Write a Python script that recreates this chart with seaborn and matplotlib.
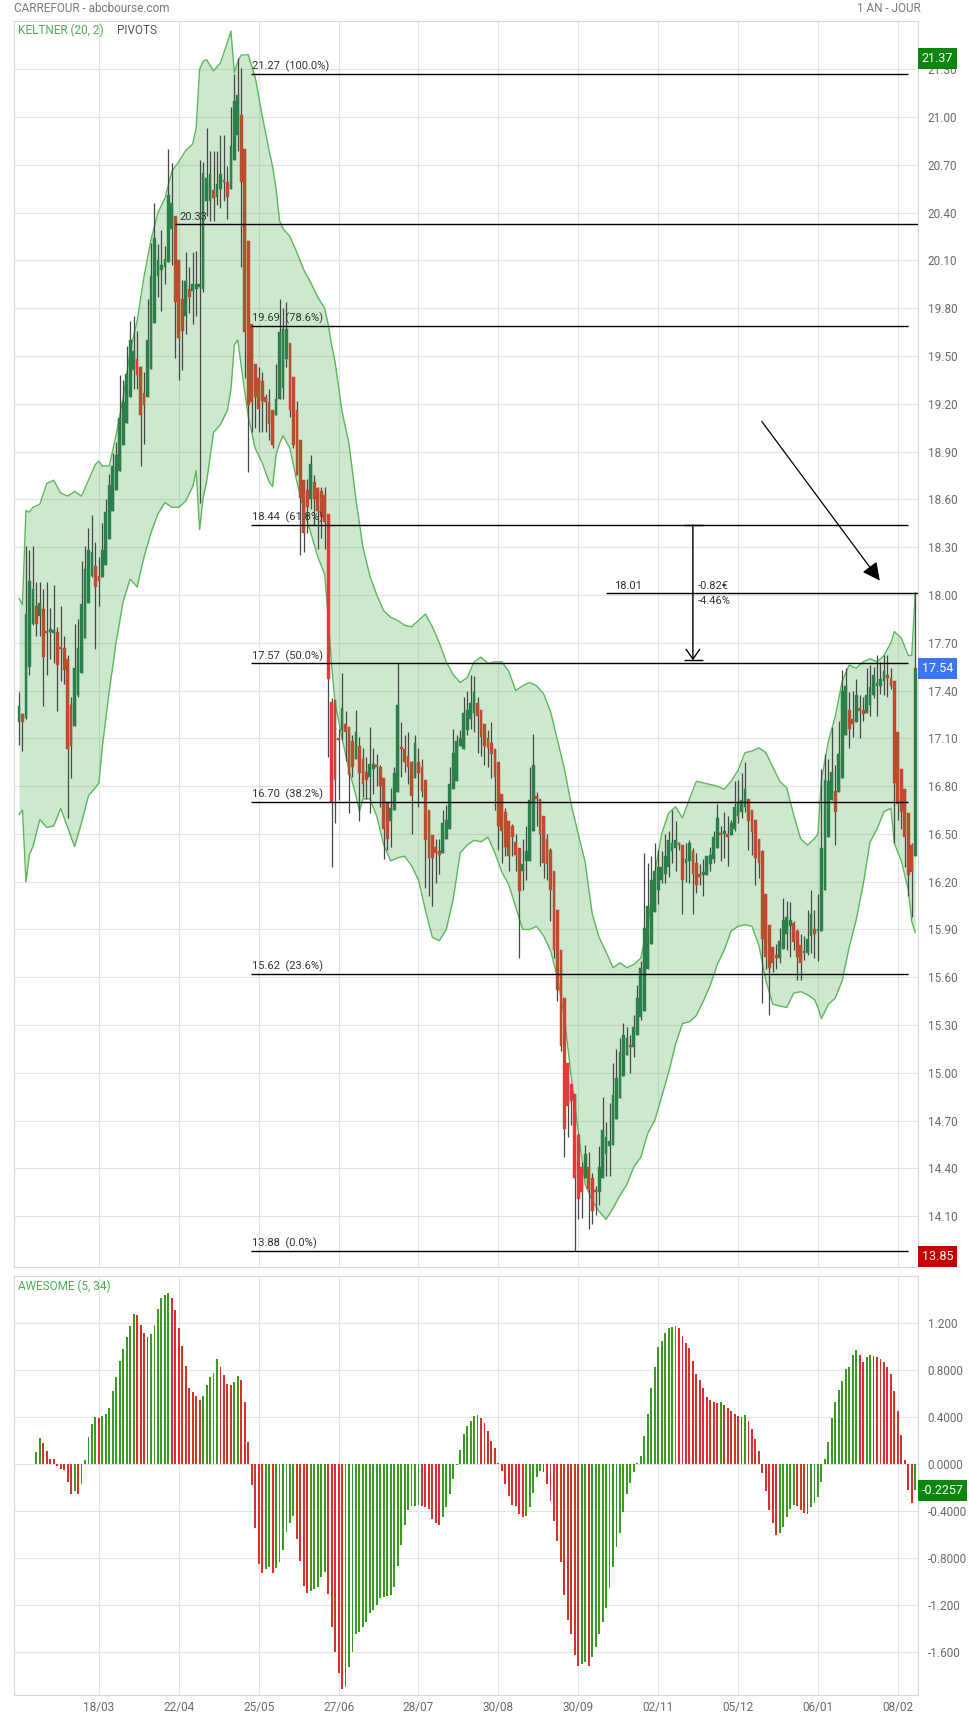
import matplotlib
matplotlib.use("Agg")
import matplotlib.pyplot as plt
import matplotlib.transforms as mtransforms
import numpy as np
import pandas as pd
import seaborn as sns

# ---------------- data (bar 0 = mid Feb 2022) ----------------
open_ = [
    17.20, 17.25, 17.23, 17.55, 17.82, 17.93, 17.87, 17.91, 17.77, 17.77,
    17.76, 17.77, 17.67, 17.67, 17.60, 17.31, 17.18, 17.37, 17.51, 17.73,
    17.95, 18.12, 18.18, 18.12, 18.11, 18.19, 18.35, 18.53, 18.66, 18.78,
    18.94, 19.08, 19.24, 19.41, 19.48, 19.43, 19.27, 19.24, 19.42, 19.71,
    20.00, 20.04, 20.06, 20.09, 20.30, 20.38, 20.10, 19.86, 19.75, 19.92,
    19.91, 19.92, 19.93, 19.92, 20.47, 20.47, 20.54, 20.50, 20.55, 20.60,
    20.59, 20.55, 20.73, 20.89, 21.01, 20.80, 20.22, 19.70, 19.45, 19.36,
    19.34, 19.24, 19.21, 19.16, 19.13, 19.23, 19.30, 19.48, 19.58, 19.37,
    19.16, 18.97, 18.72, 18.66, 18.60, 18.71, 18.67, 18.65, 18.63, 18.51,
    17.33, 17.34, 17.10, 17.15, 17.19, 17.17, 17.08, 16.97, 17.05, 16.97,
    16.89, 16.86, 16.91, 16.93, 16.92, 16.85, 16.70, 16.58, 16.65, 16.76,
    17.04, 17.03, 16.99, 16.95, 16.85, 16.95, 16.92, 16.84, 16.65, 16.49,
    16.42, 16.39, 16.38, 16.47, 16.53, 16.78, 16.83, 17.05, 17.03, 17.15,
    17.22, 17.26, 17.32, 17.28, 17.19, 17.10, 17.07, 17.03, 16.95, 16.75,
    16.64, 16.58, 16.55, 16.45, 16.41, 16.27, 16.33, 16.33, 16.52, 16.73,
    16.72, 16.61, 16.47, 16.40, 16.27, 16.02, 15.77, 15.47, 15.06, 14.93,
    14.87, 14.61, 14.41, 14.34, 14.41, 14.34, 14.26, 14.25, 14.34, 14.49,
    14.54, 14.55, 14.71, 14.84, 14.98, 15.11, 15.17, 15.16, 15.24, 15.35,
    15.39, 15.65, 15.81, 16.01, 16.15, 16.21, 16.25, 16.29, 16.39, 16.41,
    16.44, 16.43, 16.32, 16.33, 16.39, 16.32, 16.25, 16.24, 16.24, 16.31,
    16.34, 16.41, 16.50, 16.50, 16.50, 16.49, 16.53, 16.61, 16.64, 16.67,
    16.72, 16.65, 16.59, 16.47, 16.39, 16.12, 15.93, 15.79, 15.74, 15.72,
    15.78, 15.87, 15.92, 15.94, 15.89, 15.80, 15.75, 15.75, 15.86, 15.90,
    15.89, 15.89, 16.15, 16.48, 16.71, 16.77, 16.76, 16.85, 17.12, 17.28,
    17.22, 17.20, 17.29, 17.28, 17.26, 17.31, 17.37, 17.43, 17.43, 17.46,
    17.49, 17.48, 17.46, 17.14, 16.91, 16.78, 16.63, 16.43, 16.36,
]
high = [
    17.39, 17.26, 18.31, 18.28, 18.31, 18.08, 18.08, 18.04, 18.08, 17.92,
    18.06, 17.80, 17.93, 17.74, 17.62, 17.36, 17.82, 17.85, 18.21, 18.31,
    18.42, 18.50, 18.33, 18.24, 18.45, 18.60, 18.76, 18.89, 18.96, 19.38,
    19.35, 19.56, 19.72, 19.75, 19.66, 19.44, 19.40, 19.86, 20.21, 20.46,
    20.20, 20.29, 20.19, 20.80, 20.71, 20.38, 20.10, 19.98, 20.15, 20.06,
    20.15, 20.16, 20.73, 20.72, 20.93, 20.79, 20.79, 20.79, 20.89, 20.89,
    20.69, 21.06, 21.27, 21.37, 21.31, 20.80, 20.22, 19.70, 19.45, 19.43,
    19.40, 19.26, 19.29, 19.16, 19.45, 19.86, 19.80, 19.84, 19.58, 19.37,
    19.22, 18.97, 18.72, 18.73, 18.88, 18.75, 18.68, 18.68, 18.68, 18.51,
    17.35, 17.34, 17.16, 17.51, 17.27, 17.17, 17.12, 17.28, 17.11, 17.04,
    16.98, 17.17, 17.04, 17.00, 16.93, 16.85, 16.70, 16.79, 16.92, 17.57,
    17.20, 17.12, 17.14, 16.96, 17.12, 17.04, 16.97, 16.84, 16.65, 16.49,
    16.47, 16.47, 16.65, 16.68, 16.92, 17.16, 17.12, 17.15, 17.36, 17.40,
    17.50, 17.49, 17.36, 17.28, 17.19, 17.15, 17.20, 17.03, 16.95, 16.75,
    16.66, 16.58, 16.56, 16.50, 16.41, 16.47, 16.55, 16.92, 17.13, 16.76,
    16.72, 16.61, 16.50, 16.41, 16.27, 16.02, 15.77, 15.47, 15.06, 14.93,
    14.87, 14.62, 14.44, 14.55, 14.50, 14.37, 14.29, 14.54, 14.85, 14.69,
    14.81, 15.06, 15.15, 15.22, 15.31, 15.29, 15.24, 15.36, 15.55, 15.70,
    16.38, 16.32, 16.36, 16.44, 16.40, 16.39, 16.50, 16.52, 16.65, 16.58,
    16.45, 16.43, 16.44, 16.46, 16.41, 16.38, 16.31, 16.34, 16.36, 16.42,
    16.52, 16.69, 16.55, 16.64, 16.61, 16.59, 16.83, 16.84, 16.88, 16.95,
    16.72, 16.65, 16.59, 16.47, 16.40, 16.12, 15.93, 15.79, 15.81, 15.91,
    16.10, 16.08, 16.07, 15.95, 15.90, 15.87, 15.86, 16.02, 16.15, 16.02,
    16.12, 16.91, 17.00, 16.97, 17.17, 16.93, 17.21, 17.53, 17.54, 17.39,
    17.40, 17.47, 17.37, 17.36, 17.54, 17.56, 17.55, 17.62, 17.58, 17.62,
    17.62, 17.54, 17.46, 17.14, 16.91, 16.78, 16.63, 16.44, 18.02,
]
low = [
    17.06, 17.02, 17.22, 17.50, 17.81, 17.74, 17.74, 17.30, 17.50, 17.60,
    17.57, 17.27, 17.46, 17.44, 16.60, 16.85, 17.18, 17.36, 17.51, 17.73,
    17.95, 18.11, 17.66, 17.93, 18.11, 18.19, 18.35, 18.53, 18.66, 18.78,
    18.94, 19.08, 19.24, 19.29, 19.29, 18.81, 18.95, 19.24, 19.42, 19.71,
    19.87, 19.78, 19.95, 20.09, 20.07, 19.49, 19.35, 19.41, 19.64, 19.77,
    19.70, 19.75, 18.58, 19.90, 20.38, 20.35, 20.35, 20.45, 20.43, 20.47,
    20.36, 20.55, 20.73, 20.79, 20.06, 19.36, 18.77, 19.02, 19.05, 19.02,
    19.02, 19.02, 18.97, 18.92, 19.13, 19.23, 19.23, 19.43, 19.12, 18.92,
    18.75, 18.25, 18.27, 18.39, 18.54, 18.44, 18.29, 18.36, 18.29, 16.98,
    16.29, 16.57, 16.71, 17.09, 16.96, 16.63, 16.86, 16.97, 16.58, 16.73,
    16.72, 16.63, 16.75, 16.80, 16.67, 16.34, 16.40, 16.42, 16.65, 16.76,
    16.86, 16.89, 16.81, 16.50, 16.85, 16.67, 16.73, 16.16, 16.11, 16.05,
    16.19, 16.25, 16.38, 16.47, 16.53, 16.78, 16.83, 17.05, 17.03, 17.12,
    17.16, 17.14, 17.01, 16.99, 16.93, 16.92, 16.85, 16.65, 16.40, 16.32,
    16.36, 16.27, 16.36, 16.27, 15.72, 16.15, 16.21, 16.33, 16.52, 16.55,
    16.30, 16.22, 16.21, 15.95, 15.72, 15.45, 15.14, 14.47, 14.60, 14.67,
    13.88, 14.08, 14.09, 14.34, 14.02, 14.05, 14.11, 14.17, 14.34, 14.35,
    14.35, 14.55, 14.71, 14.84, 14.98, 15.11, 15.00, 15.10, 15.24, 15.33,
    15.39, 15.65, 15.81, 16.01, 16.06, 16.19, 16.19, 16.23, 16.32, 16.27,
    16.40, 16.00, 16.20, 16.19, 16.00, 16.13, 16.18, 16.11, 16.24, 16.27,
    16.32, 16.41, 16.33, 16.35, 16.30, 16.49, 16.52, 16.57, 16.60, 16.64,
    16.40, 16.37, 16.18, 16.22, 15.44, 15.65, 15.36, 15.63, 15.65, 15.69,
    15.78, 15.77, 15.73, 15.77, 15.58, 15.58, 15.71, 15.74, 15.75, 15.72,
    15.70, 15.89, 16.15, 16.48, 16.71, 16.43, 16.76, 16.85, 17.12, 17.04,
    17.11, 17.20, 17.10, 17.21, 17.26, 17.24, 17.35, 17.24, 17.38, 17.37,
    17.36, 17.41, 16.44, 16.59, 16.53, 16.29, 16.11, 15.98, 16.36,
]
close = [
    17.30, 17.20, 17.88, 18.09, 18.04, 17.82, 17.95, 17.61, 17.76, 17.77,
    17.78, 17.56, 17.66, 17.53, 17.03, 17.05, 17.54, 17.67, 17.94, 18.16,
    18.28, 18.27, 18.05, 18.09, 18.28, 18.52, 18.69, 18.81, 18.88, 19.11,
    19.21, 19.39, 19.60, 19.53, 19.38, 19.13, 19.19, 19.60, 20.00, 20.24,
    20.10, 20.07, 20.11, 20.51, 20.46, 19.84, 19.61, 19.66, 19.97, 19.87,
    19.95, 19.95, 19.95, 20.65, 20.62, 20.64, 20.49, 20.58, 20.64, 20.59,
    20.50, 20.82, 21.10, 21.14, 20.59, 19.65, 19.19, 19.21, 19.24, 19.17,
    19.22, 19.21, 19.07, 18.94, 19.23, 19.65, 19.67, 19.67, 19.16, 18.94,
    18.75, 18.61, 18.39, 18.55, 18.82, 18.60, 18.53, 18.49, 18.46, 17.47,
    16.70, 16.84, 17.09, 17.29, 17.14, 16.87, 16.92, 17.14, 16.88, 16.81,
    16.84, 16.94, 16.94, 16.92, 16.80, 16.53, 16.47, 16.66, 16.88, 17.31,
    17.03, 16.95, 16.92, 16.74, 17.07, 16.88, 16.77, 16.46, 16.35, 16.35,
    16.38, 16.37, 16.57, 16.59, 16.81, 17.01, 17.08, 17.10, 17.26, 17.28,
    17.32, 17.39, 17.24, 17.11, 17.05, 17.04, 17.00, 16.86, 16.55, 16.52,
    16.42, 16.36, 16.48, 16.37, 16.14, 16.31, 16.39, 16.71, 16.93, 16.72,
    16.50, 16.32, 16.31, 16.15, 15.77, 15.52, 15.17, 14.65, 14.79, 14.82,
    14.34, 14.21, 14.25, 14.49, 14.27, 14.13, 14.25, 14.41, 14.64, 14.60,
    14.57, 14.86, 14.97, 15.13, 15.24, 15.22, 15.16, 15.29, 15.47, 15.66,
    15.91, 16.05, 16.21, 16.27, 16.29, 16.29, 16.36, 16.46, 16.44, 16.46,
    16.43, 16.21, 16.34, 16.44, 16.25, 16.18, 16.23, 16.26, 16.36, 16.37,
    16.48, 16.60, 16.49, 16.51, 16.48, 16.57, 16.67, 16.70, 16.71, 16.78,
    16.58, 16.51, 16.35, 16.32, 15.84, 15.73, 15.66, 15.69, 15.72, 15.83,
    15.96, 15.98, 15.96, 15.82, 15.73, 15.69, 15.76, 15.84, 16.00, 15.87,
    15.90, 16.41, 16.84, 16.83, 16.89, 16.64, 17.00, 17.40, 17.43, 17.16,
    17.19, 17.37, 17.27, 17.25, 17.37, 17.42, 17.50, 17.44, 17.47, 17.52,
    17.48, 17.43, 16.82, 16.69, 16.64, 16.48, 16.24, 16.26, 17.54,
]
# candles drawn in the brighter red
bright_red = [34, 89, 90, 157, 158, 159, 160, 161, 162, 165]

# Keltner (20, 2) envelope, read at these bar positions
band_idx = [0, 1, 2, 3, 4, 6, 8, 10, 12, 14, 16, 18, 20, 22, 23, 24, 26, 28, 30, 32,
            34, 36, 38, 40, 42, 44, 46, 48, 50, 51, 52, 53, 54, 56, 58, 60, 61, 62, 63, 64,
            66, 68, 70, 72, 73, 74, 75, 76, 78, 80, 82, 84, 86, 88, 89, 90, 91, 93, 95, 97,
            98, 99, 101, 103, 105, 107, 109, 111, 113, 115, 117, 119, 121, 123, 125, 127, 129, 131, 133, 135,
            137, 139, 141, 143, 145, 147, 149, 151, 153, 155, 157, 159, 161, 163, 165, 167, 169, 171, 173, 175,
            177, 179, 181, 183, 185, 187, 189, 191, 193, 195, 197, 199, 201, 203, 205, 207, 209, 211, 213, 215,
            217, 219, 221, 223, 225, 227, 229, 230, 231, 233, 235, 237, 239, 241, 243, 245, 247, 249, 251, 252,
            254, 256, 257, 258]
band_upper = [17.98, 17.94, 18.53, 18.52, 18.55, 18.57, 18.70, 18.72, 18.64, 18.62, 18.65, 18.62, 18.72, 18.82, 18.84, 18.81, 18.81, 19.01, 19.24, 19.53,
              19.72, 20.00, 20.23, 20.40, 20.49, 20.66, 20.72, 20.79, 20.83, 20.93, 21.30, 21.35, 21.36, 21.29, 21.34, 21.47, 21.54, 21.28, 21.35, 21.39,
              21.39, 21.25, 21.01, 20.79, 20.69, 20.55, 20.35, 20.30, 20.25, 20.15, 20.04, 19.96, 19.87, 19.80, 19.70, 19.57, 19.46, 19.15, 18.95, 18.60,
              18.45, 18.30, 18.12, 18.00, 17.90, 17.86, 17.84, 17.81, 17.80, 17.84, 17.88, 17.80, 17.70, 17.58, 17.50, 17.45, 17.48, 17.58, 17.61, 17.57,
              17.58, 17.58, 17.52, 17.40, 17.43, 17.45, 17.43, 17.38, 17.27, 17.09, 16.91, 16.68, 16.50, 16.32, 16.00, 15.85, 15.76, 15.66, 15.69, 15.66,
              15.68, 15.72, 15.92, 16.25, 16.50, 16.63, 16.67, 16.60, 16.72, 16.83, 16.82, 16.81, 16.80, 16.78, 16.83, 16.90, 17.01, 17.02, 17.04, 17.01,
              16.92, 16.83, 16.79, 16.62, 16.47, 16.43, 16.47, 16.50, 16.84, 17.08, 17.24, 17.46, 17.56, 17.54, 17.58, 17.60, 17.58, 17.62, 17.70, 17.77,
              17.73, 17.62, 17.62, 18.01]
band_lower = [16.62, 16.65, 16.20, 16.37, 16.42, 16.59, 16.54, 16.55, 16.66, 16.54, 16.42, 16.57, 16.74, 16.79, 16.82, 17.05, 17.40, 17.71, 17.96, 18.10,
              18.05, 18.24, 18.39, 18.51, 18.58, 18.55, 18.55, 18.59, 18.68, 18.78, 18.41, 18.61, 18.71, 19.02, 19.07, 19.16, 19.29, 19.57, 19.60, 19.43,
              19.12, 18.92, 18.83, 18.71, 18.68, 18.88, 18.95, 19.00, 18.92, 18.71, 18.53, 18.39, 18.24, 18.13, 17.86, 17.56, 17.32, 17.10, 16.90, 16.74,
              16.64, 16.72, 16.72, 16.61, 16.43, 16.33, 16.35, 16.36, 16.30, 16.21, 16.02, 15.85, 15.83, 15.90, 16.09, 16.38, 16.43, 16.46, 16.45, 16.48,
              16.38, 16.26, 16.18, 16.04, 15.90, 15.90, 15.92, 15.86, 15.77, 15.60, 15.35, 14.97, 14.63, 14.30, 14.20, 14.13, 14.08, 14.15, 14.23, 14.30,
              14.41, 14.47, 14.62, 14.70, 14.85, 15.00, 15.18, 15.31, 15.32, 15.36, 15.45, 15.55, 15.68, 15.77, 15.89, 15.92, 15.93, 15.92, 15.80, 15.58,
              15.43, 15.42, 15.41, 15.50, 15.51, 15.49, 15.46, 15.41, 15.34, 15.43, 15.47, 15.58, 15.79, 15.96, 16.18, 16.45, 16.53, 16.64, 16.66, 16.44,
              16.33, 16.15, 15.95, 15.88]

# Awesome oscillator (5, 34), from bar 5 to the last bar
ao_start = 5
ao_values = [
    0.10, 0.22, 0.18, 0.11, 0.045, 0.04, -0.02, -0.04, -0.05, -0.15, -0.26, -0.23, -0.26, -0.17, 0.03, 0.23, 0.34, 0.40, 0.395,
    0.41, 0.43, 0.48, 0.62, 0.74, 0.88, 0.98, 1.08, 1.18, 1.28, 1.27, 1.19, 1.12, 1.08, 1.11, 1.19, 1.32, 1.42, 1.44, 1.46,
    1.42, 1.31, 1.16, 1.01, 0.84, 0.65, 0.61, 0.58, 0.55, 0.58, 0.67, 0.74, 0.78, 0.90, 0.83, 0.76, 0.68, 0.67, 0.70, 0.75,
    0.72, 0.53, 0.19, -0.18, -0.55, -0.85, -0.93, -0.90, -0.88, -0.93, -0.89, -0.84, -0.73, -0.58, -0.50, -0.44, -0.64, -0.83, -1.04, -1.10,
    -1.08, -1.07, -1.05, -0.96, -0.92, -1.11, -1.39, -1.60, -1.78, -1.92, -1.90, -1.73, -1.60, -1.45, -1.43, -1.39, -1.35, -1.27, -1.25,
    -1.20, -1.14, -1.135, -1.13, -1.12, -1.05, -0.87, -0.69, -0.52, -0.39, -0.36, -0.355, -0.35, -0.36, -0.37, -0.38, -0.47, -0.50, -0.52, -0.45,
    -0.37, -0.26, -0.13, -0.005, 0.12, 0.26, 0.32, 0.37, 0.41, 0.42, 0.39, 0.35, 0.28, 0.20, 0.14, 0.01, -0.06, -0.17, -0.27, -0.35,
    -0.36, -0.43, -0.45, -0.44, -0.37, -0.25, -0.11, -0.06, -0.07, -0.17, -0.32, -0.49, -0.66, -0.84, -1.12, -1.33, -1.45, -1.63, -1.72, -1.71,
    -1.69, -1.72, -1.65, -1.56, -1.45, -1.35, -1.23, -1.06, -0.88, -0.71, -0.59, -0.41, -0.26, -0.16, -0.07, 0.01, 0.07, 0.24, 0.43, 0.65,
    0.83, 1.00, 1.05, 1.12, 1.16, 1.17, 1.175, 1.16, 1.09, 1.03, 0.99, 0.88, 0.77, 0.72, 0.65, 0.57, 0.55, 0.53, 0.52, 0.53,
    0.50, 0.48, 0.45, 0.43, 0.41, 0.40, 0.42, 0.37, 0.30, 0.21, 0.11, -0.08, -0.23, -0.39, -0.50, -0.61, -0.59, -0.54, -0.45, -0.38,
    -0.35, -0.355, -0.39, -0.42, -0.425, -0.37, -0.33, -0.28, -0.15, 0.04, 0.19, 0.39, 0.53, 0.63, 0.71, 0.81, 0.83, 0.93, 0.97, 0.93,
    0.87, 0.91, 0.93, 0.92, 0.91, 0.90, 0.87, 0.83, 0.77, 0.62, 0.45, 0.25, 0.03, -0.22, -0.33, -0.2257,
]

date_idx = [23, 46, 69, 92, 115, 138, 161, 184, 207, 230, 253]
date_labels = ["18/03", "22/04", "25/05", "27/06", "28/07", "30/08",
               "30/09", "02/11", "05/12", "06/01", "08/02"]
price_ticks = [14.10, 14.40, 14.70, 15.00, 15.30, 15.60, 15.90, 16.20, 16.50, 16.80,
               17.10, 17.40, 17.70, 18.00, 18.30, 18.60, 18.90, 19.20, 19.50, 19.80,
               20.10, 20.40, 20.70, 21.00, 21.30]
ao_ticks = [1.2, 0.8, 0.4, 0.0, -0.4, -0.8, -1.2, -1.6]
ao_tick_labels = ["1.200", "0.8000", "0.4000", "0.0000", "-0.4000", "-0.8000", "-1.200", "-1.600"]

fib_values = [21.27, 19.69, 18.44, 17.57, 16.70, 15.62, 13.88]
fib_pct = ["100.0%", "78.6%", "61.8%", "50.0%", "38.2%", "23.6%", "0.0%"]
pivot_value = 20.33
measure_value = 18.01
measure_top, measure_bottom = 18.44, 17.59
measure_texts = ["-0.82€", "-4.46%"]
last_close, period_high, period_low, ao_last = 17.54, 21.37, 13.85, -0.2257

# ---------------- styling ----------------
sns.set_theme(style="white")
plt.rcParams["font.family"] = ["Roboto", "DejaVu Sans"]

GREEN_C, RED_C, BRIGHT_C = "#2b7f48", "#b94d2e", "#e23a3a"
WICK = "#474747"
GRID = "#e3e3e3"
TXT = "#6b6b6b"

df = pd.DataFrame({"o": open_, "h": high, "l": low, "c": close})
df["i"] = np.arange(len(df))
df["col"] = np.where(df["c"] >= df["o"], GREEN_C, RED_C)
df.loc[df["i"].isin(bright_red), "col"] = BRIGHT_C
df["bot"] = df[["o", "c"]].min(axis=1)
df["hgt"] = (df["c"] - df["o"]).abs().clip(lower=0.015)

W, H = 969, 1718
fig = plt.figure(figsize=(W / 100, H / 100), dpi=100)


def box(l, t, r, b):
    return [l / W, 1 - b / H, (r - l) / W, (b - t) / H]


ax1 = fig.add_axes(box(14, 21, 918, 1267))
ax2 = fig.add_axes(box(14, 1276, 918, 1695))
x_left, x_right = -1.44, 258.8

for ax in (ax1, ax2):
    ax.set_xlim(x_left, x_right)
    ax.set_xticks(date_idx)
    ax.grid(True, color=GRID, lw=0.8)
    ax.set_axisbelow(True)
    for s in ax.spines.values():
        s.set_color("#d8d8d8")
        s.set_linewidth(0.8)
    ax.tick_params(axis="y", left=False, right=False, labelleft=False, labelright=True,
                   length=0, pad=7, labelsize=8.5, labelcolor=TXT)

# ---- main panel ----
ax1.set_ylim(13.781, 21.603)
ax1.set_yticks(price_ticks)
ax1.set_yticklabels([f"{v:.2f}" for v in price_ticks])
ax1.tick_params(axis="x", bottom=False, labelbottom=False, length=0)

ax1.fill_between(band_idx, band_lower, band_upper, color="#4caf50", alpha=0.28, lw=0, zorder=1)
sns.lineplot(x=band_idx, y=band_upper, ax=ax1, color="#5cb85c", lw=1.0, sort=False, zorder=1.5)
sns.lineplot(x=band_idx, y=band_lower, ax=ax1, color="#5cb85c", lw=1.0, sort=False, zorder=1.5)

ax1.vlines(df["i"], df["l"], df["h"], color=WICK, lw=0.9, zorder=2)
ax1.bar(df["i"], df["hgt"], bottom=df["bot"], width=0.8, color=df["col"],
        edgecolor=df["col"], lw=0.3, zorder=3)

# fibonacci retracements
fib_x0, fib_x1 = 66.8, 255.8
for v, pct in zip(fib_values, fib_pct):
    ax1.hlines(v, fib_x0, fib_x1, color="black", lw=1.0, zorder=4)
    ax1.text(fib_x0 + 0.3, v + 0.012, f"{v:.2f}  ({pct})", fontsize=8, color="#333333",
             va="bottom", ha="left", zorder=5)
ax1.hlines(pivot_value, 44.9, x_right, color="black", lw=1.0, zorder=4)
ax1.text(46.3, pivot_value + 0.012, f"{pivot_value:.2f}", fontsize=8, color="#333333",
         va="bottom", ha="left", zorder=5)
ax1.hlines(measure_value, 169.0, x_right, color="black", lw=1.0, zorder=4)
ax1.text(171.3, measure_value + 0.012, f"{measure_value:.2f}", fontsize=8, color="#333333",
         va="bottom", ha="left", zorder=5)

# measuring arrow
ax1.hlines([measure_top, measure_bottom], 191.4, 196.9, color="black", lw=1.0, zorder=4)
ax1.annotate("", xy=(194.0, measure_bottom), xytext=(194.0, measure_top),
             arrowprops=dict(arrowstyle="->,head_length=0.5,head_width=0.35", color="black",
                             lw=1.0, shrinkA=0, shrinkB=0, mutation_scale=14), zorder=4)
ax1.text(195.5, measure_value + 0.015, measure_texts[0], fontsize=8, color="#333333", va="bottom", ha="left")
ax1.text(195.5, measure_value - 0.015, measure_texts[1], fontsize=8, color="#333333", va="top", ha="left")

# trend arrow
ax1.annotate("", xy=(247.8, 18.09), xytext=(213.8, 19.09),
             arrowprops=dict(arrowstyle="-|>,head_length=0.6,head_width=0.3", color="black",
                             lw=0.9, shrinkA=0, shrinkB=0, mutation_scale=18), zorder=4)

ax1.text(4.5 / 904, 1 - 9 / 1246, "KELTNER (20, 2)", transform=ax1.transAxes, fontsize=8.5,
         color="#4caf50", va="center", ha="left")
ax1.text(103 / 904, 1 - 9 / 1246, "PIVOTS", transform=ax1.transAxes, fontsize=8.5,
         color="#555555", va="center", ha="left")

tr1 = mtransforms.blended_transform_factory(ax1.transAxes, ax1.transData)
for val, fc in [(period_high, "#0d860d"), (last_close, "#3d74f0"), (period_low, "#c40000")]:
    ax1.text(1.004, val, f"{val:.2f}", transform=tr1, fontsize=9, color="white", va="center",
             ha="left", zorder=6, clip_on=False,
             bbox=dict(boxstyle="square,pad=0.32", fc=fc, ec="none"))

# ---- awesome oscillator panel ----
ao_idx = np.arange(ao_start, ao_start + len(ao_values))
ao_arr = np.array(ao_values)
ao_prev = np.concatenate([[ao_arr[0] - 1], ao_arr[:-1]])
ao_cols = np.where(ao_arr >= ao_prev, "#3a9b22", "#d8312c")
ax2.bar(ao_idx, ao_arr, width=0.55, color=ao_cols, lw=0, zorder=3)

ax2.set_ylim(-1.971, 1.604)
ax2.set_yticks(ao_ticks)
ax2.set_yticklabels(ao_tick_labels)
ax2.set_xticklabels(date_labels)
ax2.tick_params(axis="x", bottom=False, length=0, pad=4, labelsize=8.5, labelcolor=TXT)
ax2.text(4.5 / 904, 1 - 10 / 419, "AWESOME (5, 34)", transform=ax2.transAxes, fontsize=8.5,
         color="#4caf50", va="center", ha="left")
tr2 = mtransforms.blended_transform_factory(ax2.transAxes, ax2.transData)
ax2.text(1.004, ao_last, f"{ao_last:.4f}", transform=tr2, fontsize=9, color="white", va="center",
         ha="left", zorder=6, clip_on=False,
         bbox=dict(boxstyle="square,pad=0.32", fc="#0d860d", ec="none"))

# header
fig.text(14 / W, 1 - 8 / H, "CARREFOUR - abcbourse.com", fontsize=8.5, color="#7a7a7a",
         va="center", ha="left")
fig.text(921 / W, 1 - 8 / H, "1 AN - JOUR", fontsize=8.5, color="#7a7a7a", va="center", ha="right")

fig.savefig("out.png", dpi=100)
